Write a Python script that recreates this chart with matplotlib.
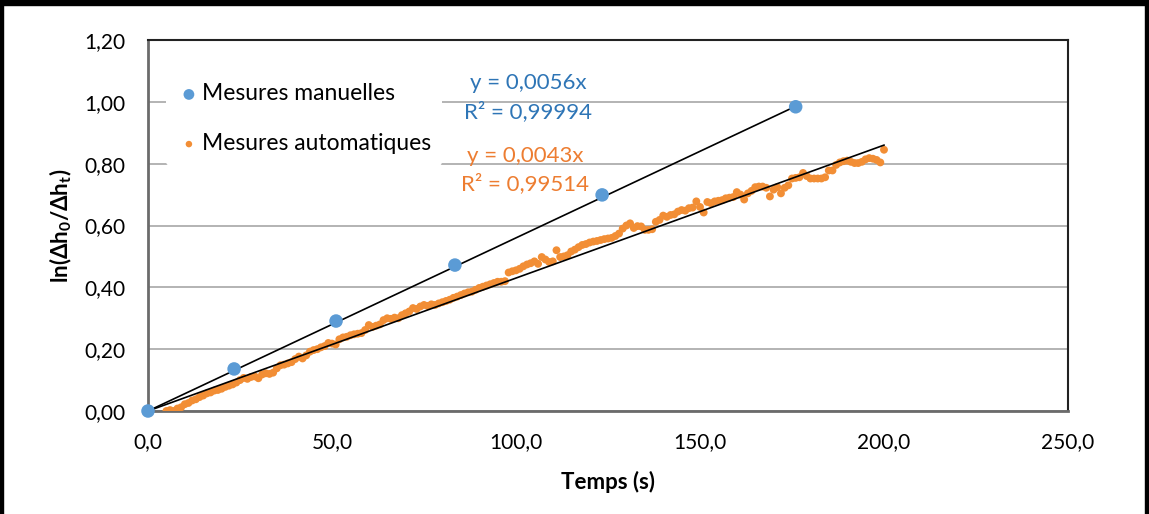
import matplotlib
matplotlib.use("Agg")
import matplotlib.pyplot as plt
from matplotlib.patches import Rectangle
from matplotlib.ticker import FuncFormatter

plt.rcParams['font.family'] = ['Lato', 'DejaVu Sans']
plt.rcParams['mathtext.fontset'] = 'custom'
plt.rcParams['mathtext.rm'] = 'Lato:bold'
plt.rcParams['mathtext.it'] = 'Lato:bold'
plt.rcParams['mathtext.bf'] = 'Lato:bold'

# Manual measurements
manual_t = [0.0, 23.4, 51.1, 83.4, 123.4, 176.0]
manual_y = [0.000, 0.136, 0.291, 0.472, 0.699, 0.984]

# Automatic measurements (t = 5 .. 200 s, 1 s step)
auto_t = list(range(5, 201))
auto_y = [
    0.000, 0.003, 0.000, 0.008, 0.012, 0.022, 0.026, 0.034, 0.038, 0.045,
    0.050, 0.057, 0.060, 0.066, 0.068, 0.072, 0.078, 0.082, 0.086, 0.092,
    0.100, 0.107, 0.104, 0.110, 0.112, 0.106, 0.118, 0.122, 0.120, 0.124,
    0.138, 0.148, 0.150, 0.154, 0.158, 0.168, 0.176, 0.170, 0.180, 0.192,
    0.197, 0.200, 0.206, 0.210, 0.220, 0.218, 0.215, 0.232, 0.238, 0.240,
    0.245, 0.248, 0.250, 0.252, 0.262, 0.278, 0.272, 0.276, 0.280, 0.294,
    0.300, 0.298, 0.302, 0.300, 0.310, 0.316, 0.322, 0.333, 0.330, 0.338,
    0.343, 0.340, 0.345, 0.343, 0.348, 0.352, 0.356, 0.360, 0.366, 0.370,
    0.375, 0.380, 0.384, 0.386, 0.392, 0.398, 0.402, 0.406, 0.410, 0.414,
    0.418, 0.418, 0.420, 0.448, 0.452, 0.455, 0.460, 0.468, 0.474, 0.478,
    0.484, 0.476, 0.498, 0.490, 0.482, 0.484, 0.520, 0.498, 0.500, 0.504,
    0.516, 0.522, 0.530, 0.537, 0.540, 0.545, 0.548, 0.550, 0.553, 0.556,
    0.558, 0.560, 0.566, 0.574, 0.590, 0.600, 0.607, 0.592, 0.598, 0.597,
    0.586, 0.586, 0.588, 0.612, 0.618, 0.632, 0.628, 0.634, 0.636, 0.645,
    0.650, 0.648, 0.656, 0.658, 0.678, 0.660, 0.642, 0.676, 0.672, 0.678,
    0.680, 0.682, 0.688, 0.690, 0.692, 0.708, 0.700, 0.684, 0.704, 0.712,
    0.724, 0.726, 0.726, 0.722, 0.694, 0.716, 0.724, 0.704, 0.722, 0.730,
    0.752, 0.754, 0.756, 0.770, 0.760, 0.752, 0.752, 0.752, 0.752, 0.756,
    0.778, 0.778, 0.796, 0.804, 0.808, 0.810, 0.806, 0.802, 0.802, 0.806,
    0.814, 0.818, 0.816, 0.812, 0.804, 0.845,
]

slope_manual = 0.0056
slope_auto = 0.0043
r2_manual = "0,99994"
r2_auto = "0,99514"

x_ticks = [0, 50, 100, 150, 200, 250]
y_ticks = [0.0, 0.2, 0.4, 0.6, 0.8, 1.0, 1.2]

blue = '#5b9bd5'
orange = '#f28e35'
blue_txt = '#2e75b6'
orange_txt = '#ed7d31'

fig = plt.figure(figsize=(11.49, 5.14), dpi=100)
ax = fig.add_axes([148/1149, 1-411/514, (1068-148)/1149, (411-40)/514])

ax.set_xlim(0, 250)
ax.set_ylim(0, 1.2)
ax.set_xticks(x_ticks)
ax.set_yticks(y_ticks)
ax.xaxis.set_major_formatter(FuncFormatter(lambda v, p: f"{v:.1f}".replace('.', ',')))
ax.yaxis.set_major_formatter(FuncFormatter(lambda v, p: f"{v:.2f}".replace('.', ',')))
ax.tick_params(axis='both', length=0, labelsize=15, colors='black')
ax.tick_params(axis='x', pad=15)
ax.tick_params(axis='y', pad=16)

ax.grid(axis='y', color='#b3b3b3', linewidth=1.4)
ax.set_axisbelow(True)
for s in ['left', 'bottom']:
    ax.spines[s].set_color('#6b6b6b')
    ax.spines[s].set_linewidth(2.0)
for s in ['top', 'right']:
    ax.spines[s].set_color('#222222')
    ax.spines[s].set_linewidth(1.5)

# trend lines
ax.plot([0, manual_t[-1]], [0, slope_manual * manual_t[-1]], color='black', lw=1.2, zorder=4)
ax.plot([0, auto_t[-1]], [0, slope_auto * auto_t[-1]], color='black', lw=1.2, zorder=4)

ax.scatter(auto_t, auto_y, s=32, color=orange, edgecolors='none', zorder=3,
           label='Mesures automatiques')
ax.scatter(manual_t, manual_y, s=95, color=blue, edgecolors='none', zorder=5,
           label='Mesures manuelles', clip_on=False)

h, l = ax.get_legend_handles_labels()
leg = ax.legend(h[::-1], l[::-1], loc='upper left',
                bbox_to_anchor=(18/920, 1 - 32/371),
                frameon=True, fontsize=16.5, labelspacing=1.25, handletextpad=0.05,
                handlelength=1.0, borderaxespad=0.0, borderpad=0.5)
leg.get_frame().set_facecolor('white')
leg.get_frame().set_edgecolor('none')
leg.get_frame().set_alpha(1.0)
leg.legend_handles[0].set_sizes([60])
leg.legend_handles[1].set_sizes([22])

ax.text(103.3, 1.062, "y = 0,0056x", color=blue_txt, fontsize=16, ha='center', va='center')
ax.text(103.3, 0.969, "R² = " + r2_manual, color=blue_txt, fontsize=16, ha='center', va='center')
ax.text(102.5, 0.826, "y = 0,0043x", color=orange_txt, fontsize=16, ha='center', va='center')
ax.text(102.5, 0.735, "R² = " + r2_auto, color=orange_txt, fontsize=16, ha='center', va='center')

ax.set_xlabel("Temps (s)", fontsize=16, fontweight='bold', labelpad=14)
ax.set_ylabel(r"ln(Δh$_\mathbf{0}$/Δh$_\mathbf{t}$)", fontsize=16, fontweight='bold', labelpad=8)

# black border frame
fig.patches.append(Rectangle((0, 1-5/514), 1, 5/514, transform=fig.transFigure, color='black', zorder=10))
fig.patches.append(Rectangle((0, 0), 3/1149, 1, transform=fig.transFigure, color='black', zorder=10))
fig.patches.append(Rectangle((1-4/1149, 0), 4/1149, 1, transform=fig.transFigure, color='black', zorder=10))

fig.savefig("out.png", dpi=100)
